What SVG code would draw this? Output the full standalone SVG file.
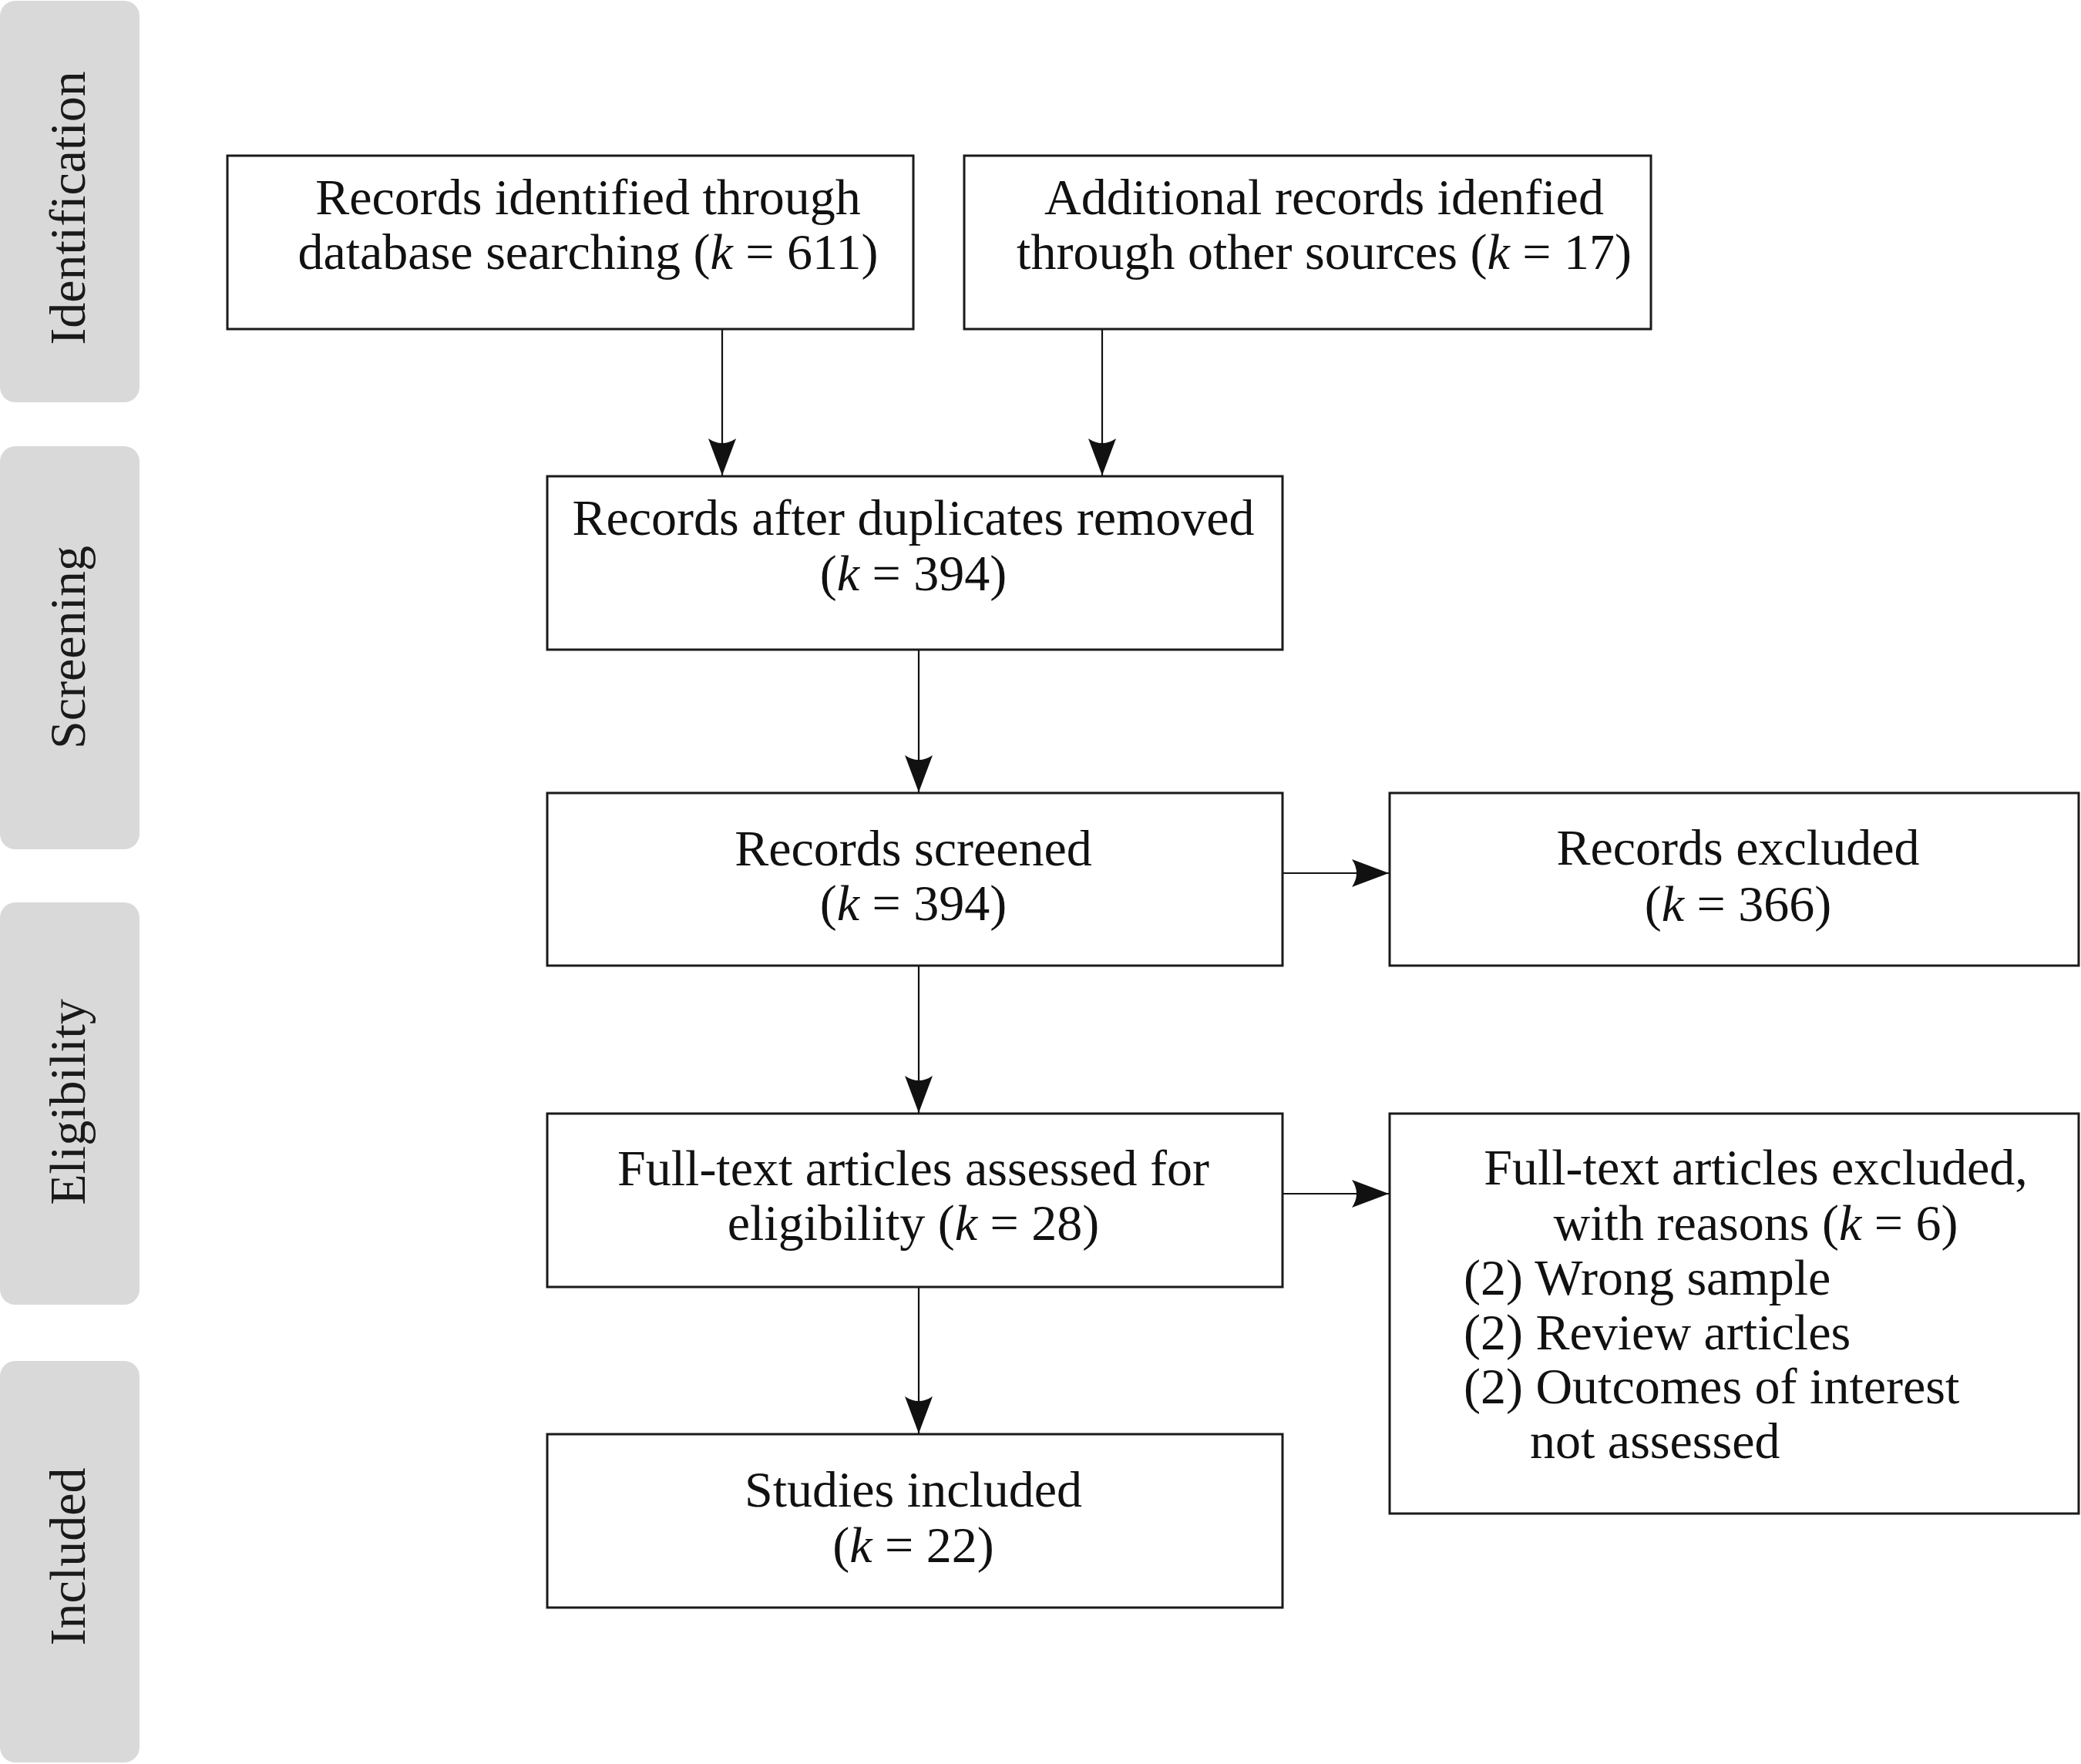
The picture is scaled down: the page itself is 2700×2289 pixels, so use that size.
<svg xmlns="http://www.w3.org/2000/svg" width="2700" height="2289" viewBox="0 0 2700 2289">
<style>
.phase{fill:#d9d9d9}
.plabel{font-family:"Liberation Serif","Times New Roman",serif;font-size:66px;fill:#1a1a1a;text-anchor:middle}
.box{fill:#ffffff;stroke:#1a1a1a;stroke-width:3}
.t{font-family:"Liberation Serif","Times New Roman",serif;font-size:66px;fill:#111111}
.c{text-anchor:middle}
.k{font-style:italic}
.conn{stroke:#111111;stroke-width:2.2;fill:none;marker-end:url(#ah)}
</style>
<defs>
<marker id="ah" markerUnits="userSpaceOnUse" viewBox="0 0 48 36" refX="48" refY="18" markerWidth="48" markerHeight="36" orient="auto">
<path d="M0,0 Q24,9 48,18 Q24,27 0,36 Q12,18 0,0 Z" fill="#111111"/>
</marker>
</defs>
<rect width="2700" height="2289" fill="#ffffff"/>
<g id="phases">
<g id="phase-identification"><rect class="phase" x="0" y="1" width="181" height="521" rx="20"/><text class="plabel" transform="translate(110,270) rotate(-90)">Identification</text></g>
<g id="phase-screening"><rect class="phase" x="0" y="579" width="181" height="523" rx="20"/><text class="plabel" transform="translate(110,840) rotate(-90)">Screening</text></g>
<g id="phase-eligibility"><rect class="phase" x="0" y="1171" width="181" height="522" rx="20"/><text class="plabel" transform="translate(110,1430) rotate(-90)">Eligibility</text></g>
<g id="phase-included"><rect class="phase" x="0" y="1766" width="181" height="521" rx="20"/><text class="plabel" transform="translate(110,2020) rotate(-90)">Included</text></g>
</g>
<g id="connectors">
<line class="conn" x1="937" y1="427" x2="937" y2="617"/>
<line class="conn" x1="1430" y1="427" x2="1430" y2="617"/>
<line class="conn" x1="1192" y1="843" x2="1192" y2="1028"/>
<line class="conn" x1="1192" y1="1253" x2="1192" y2="1444"/>
<line class="conn" x1="1192" y1="1670" x2="1192" y2="1860"/>
<line class="conn" x1="1664" y1="1133" x2="1802" y2="1133"/>
<line class="conn" x1="1664" y1="1549" x2="1802" y2="1549"/>
</g>
<g id="node-db">
<rect class="box" x="295" y="202" width="890" height="225"/>
<text class="t c" x="763" y="278">Records identified through</text>
<text class="t c" x="763" y="349">database searching (<tspan class="k">k</tspan> = 611)</text>
</g>
<g id="node-other">
<rect class="box" x="1251" y="202" width="891" height="225"/>
<text class="t c" x="1718" y="278">Additional records idenfied</text>
<text class="t c" x="1718" y="349">through other sources (<tspan class="k">k</tspan> = 17)</text>
</g>
<g id="node-dedup">
<rect class="box" x="710" y="618" width="954" height="225"/>
<text class="t c" x="1185" y="694">Records after duplicates removed</text>
<text class="t c" x="1185" y="766">(<tspan class="k">k</tspan> = 394)</text>
</g>
<g id="node-screened">
<rect class="box" x="710" y="1029" width="954" height="224"/>
<text class="t c" x="1185" y="1123">Records screened</text>
<text class="t c" x="1185" y="1194">(<tspan class="k">k</tspan> = 394)</text>
</g>
<g id="node-excluded">
<rect class="box" x="1803" y="1029" width="894" height="224"/>
<text class="t c" x="2255" y="1122">Records excluded</text>
<text class="t c" x="2255" y="1195">(<tspan class="k">k</tspan> = 366)</text>
</g>
<g id="node-fulltext">
<rect class="box" x="710" y="1445" width="954" height="225"/>
<text class="t c" x="1185" y="1538">Full-text articles assessed for</text>
<text class="t c" x="1185" y="1609">eligibility (<tspan class="k">k</tspan> = 28)</text>
</g>
<g id="node-ft-excluded">
<rect class="box" x="1803" y="1445" width="894" height="519"/>
<text class="t c" x="2278" y="1537">Full-text articles excluded,</text>
<text class="t c" x="2278" y="1609">with reasons (<tspan class="k">k</tspan> = 6)</text>
<text class="t" x="1899" y="1680">(2) Wrong sample</text>
<text class="t" x="1899" y="1751">(2) Review articles</text>
<text class="t" x="1899" y="1821">(2) Outcomes of interest</text>
<text class="t" x="1985" y="1892">not assessed</text>
</g>
<g id="node-included">
<rect class="box" x="710" y="1861" width="954" height="225"/>
<text class="t c" x="1185" y="1955">Studies included</text>
<text class="t c" x="1185" y="2027">(<tspan class="k">k</tspan> = 22)</text>
</g>
</svg>
